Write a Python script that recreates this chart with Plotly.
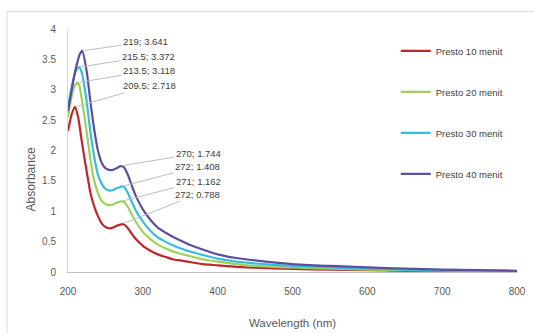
import plotly.graph_objects as go

wavelength = [200, 205, 209.5, 213.5, 215.5, 219, 225, 230, 235, 240, 245, 250, 255, 260, 265, 270, 272, 275,
              280, 285, 290, 300, 310, 320, 330, 340, 350, 360, 380, 400, 425, 450, 500, 550, 600, 650, 700, 750, 800]

presto_10 = [2.32, 2.6, 2.718, 2.55, 2.4, 2.1, 1.65, 1.3, 1.08, 0.92, 0.8, 0.74, 0.72, 0.73, 0.76, 0.78, 0.788, 0.78,
             0.72, 0.63, 0.55, 0.43, 0.35, 0.29, 0.25, 0.21, 0.19, 0.17, 0.13, 0.11, 0.085, 0.07, 0.05, 0.04, 0.03, 0.02, 0.015, 0.01, 0.008]
presto_20 = [2.55, 2.9, 3.08, 3.118, 3.05, 2.8, 2.3, 1.85, 1.5, 1.3, 1.17, 1.12, 1.10, 1.11, 1.14, 1.16, 1.162, 1.15,
             1.07, 0.95, 0.84, 0.66, 0.54, 0.45, 0.39, 0.34, 0.30, 0.27, 0.21, 0.17, 0.13, 0.10, 0.075, 0.055, 0.04, 0.03, 0.025, 0.018, 0.013]
presto_30 = [2.72, 3.05, 3.28, 3.36, 3.372, 3.25, 2.8, 2.3, 1.9, 1.6, 1.45, 1.37, 1.34, 1.35, 1.38, 1.40, 1.408, 1.40,
             1.3, 1.16, 1.03, 0.83, 0.68, 0.57, 0.50, 0.44, 0.39, 0.35, 0.28, 0.22, 0.17, 0.14, 0.10, 0.075, 0.055, 0.04, 0.03, 0.022, 0.016]
presto_40 = [2.65, 3.0, 3.3, 3.5, 3.58, 3.641, 3.3, 2.8, 2.35, 2.0, 1.8, 1.71, 1.68, 1.68, 1.71, 1.744, 1.74, 1.72,
             1.6, 1.43, 1.27, 1.03, 0.86, 0.73, 0.65, 0.58, 0.52, 0.46, 0.37, 0.29, 0.23, 0.19, 0.13, 0.10, 0.075, 0.055, 0.04, 0.03, 0.02]

series_names = ["Presto 10 menit", "Presto 20 menit", "Presto 30 menit", "Presto 40 menit"]
series_values = [presto_10, presto_20, presto_30, presto_40]
colors = ["#C0272D", "#9BD35A", "#35BDE0", "#5E4E9E"]

peak_points = [(209.5, 2.718), (213.5, 3.118), (215.5, 3.372), (219, 3.641)]
peak_labels = ["209.5; 2.718", "213.5; 3.118", "215.5; 3.372", "219; 3.641"]
peak_offsets = [(74, -21), (71, -12), (69, -11), (63, -9)]

shoulder_points = [(272, 0.788), (271, 1.162), (272, 1.408), (270, 1.744)]
shoulder_labels = ["272; 0.788", "271; 1.162", "272; 1.408", "270; 1.744"]
shoulder_offsets = [(76, -30), (77, -20), (76, -20), (78, -13)]

fig = go.Figure()
for i, (name, vals, col) in enumerate(zip(series_names, series_values, colors)):
    fig.add_trace(go.Scatter(x=wavelength, y=vals, mode="lines", name=name,
                             line=dict(color=col, width=2.2, shape="spline", smoothing=0.6),
                             legendgroup=f"g{i}"))

font_small = dict(family="Liberation Sans, Arial, sans-serif", size=9.5, color="#404040")
for (px, py), lab, (ax, ay) in list(zip(peak_points, peak_labels, peak_offsets)) + \
        list(zip(shoulder_points, shoulder_labels, shoulder_offsets)):
    fig.add_annotation(x=px, y=py, text=lab, showarrow=True, arrowhead=0, arrowwidth=1,
                       arrowcolor="#BFBFBF", ax=ax, ay=ay, font=font_small, standoff=2)

# y-axis title (placed like the original, slightly below the plot centre)
fig.add_annotation(xref="paper", yref="paper", x=-0.1024, y=0.381, text="Absorbance",
                   textangle=-90, showarrow=False, font=dict(size=12, color="#595959"))

# outer chart frame
fig.add_shape(type="rect", xref="paper", yref="paper", x0=-0.1359, x1=1.051, y0=-0.278, y1=1.072,
              line=dict(color="#D9D9D9", width=1), fillcolor="rgba(0,0,0,0)", layer="below")

fig.update_layout(
    width=534, height=333,
    margin=dict(l=68, r=17, t=29, b=61),
    paper_bgcolor="white", plot_bgcolor="white",
    font=dict(family="Liberation Sans, Arial, sans-serif", size=10, color="#595959"),
    showlegend=True,
    legend=dict(x=0.730, y=0.97, xanchor="left", yanchor="top", tracegroupgap=22,
                font=dict(size=9.5, color="#404040"), bgcolor="rgba(0,0,0,0)", itemwidth=30),
    xaxis=dict(range=[200, 800], tickvals=[200, 300, 400, 500, 600, 700, 800],
               showgrid=False, zeroline=False, showline=True, linecolor="#BFBFBF", linewidth=1,
               ticks="", ticklabelstandoff=10, automargin=False,
               title=dict(text="Wavelength (nm)", font=dict(size=11.5, color="#595959"), standoff=22)),
    yaxis=dict(range=[0, 4], tickvals=[0, 0.5, 1, 1.5, 2, 2.5, 3, 3.5, 4],
               ticktext=["0", "0.5", "1", "1.5", "2", "2.5", "3", "3.5", "4"],
               showgrid=False, zeroline=False, showline=True, linecolor="#D9D9D9", linewidth=1,
               ticks="", ticklabelstandoff=9, automargin=False),
)

fig.write_html("out.html", config={"displayModeBar": False},
               post_script="document.body.style.margin='0';")
